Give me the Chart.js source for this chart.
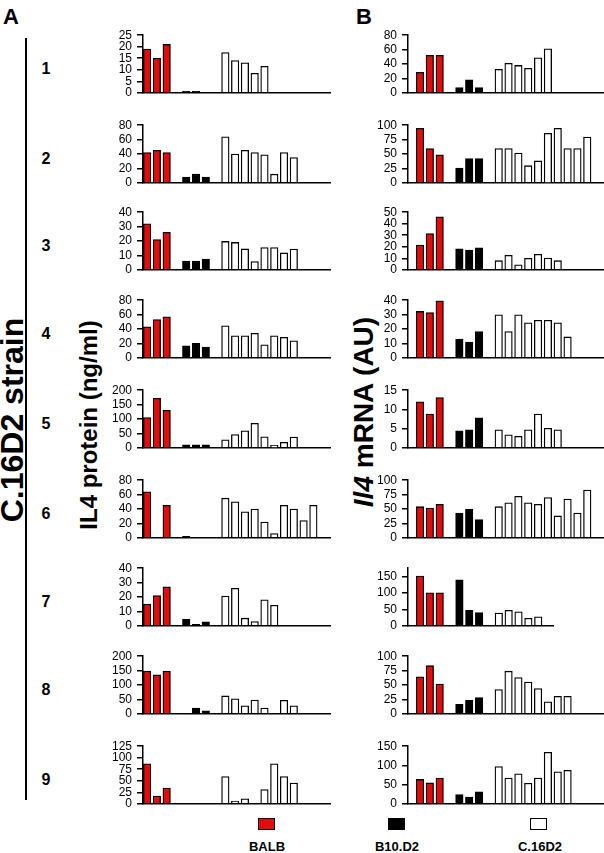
<!DOCTYPE html>
<html>
<head>
<meta charset="utf-8">
<script src="https://cdn.jsdelivr.net/npm/chart.js@4.4.1/dist/chart.umd.min.js"></script>
<style>
    body {
        margin: 0;
        width: 604px;
        height: 853px;
        position: relative;
        overflow: hidden;
        background: #ffffff;
        font-family: "Liberation Sans", Arial, sans-serif;
        color: #000000;
    }

    canvas {
        position: absolute;
    }

    .text {
        position: absolute;
        font-weight: bold;
        white-space: nowrap;
        transform: translate(-50%, -50%);
        line-height: 1;
    }

    .vertical {
        transform: translate(-50%, -50%) rotate(-90deg);
    }

    .strain-line {
        position: absolute;
        left: 25px;
        top: 38px;
        width: 2px;
        height: 762px;
        background: #000000;
    }

    .legend-box {
        position: absolute;
        width: 15px;
        height: 10px;
        border: 1.5px solid #000000;
    }
</style>
</head>
<body>

<div class="text" style="left: 11px; top: 17px; font-size: 22px;">A</div>
<div class="text" style="left: 364px; top: 17px; font-size: 22px;">B</div>

<div class="strain-line"></div>
<div class="text vertical" style="left: 12px; top: 420px; font-size: 32px;">C.16D2 strain</div>
<div class="text vertical" style="left: 89px; top: 425px; font-size: 24px;">IL4 protein (ng/ml)</div>
<div class="text vertical" style="left: 364px; top: 412px; font-size: 28px;"><i>Il4</i> mRNA (AU)</div>

<div id="row-numbers"></div>
<div id="panels"></div>

<div class="legend-box" style="left: 258px; top: 818px; background: #e10d0d;"></div>
<div class="legend-box" style="left: 388px; top: 818px; background: #000000;"></div>
<div class="legend-box" style="left: 530px; top: 818px; background: #ffffff;"></div>
<div class="text" style="left: 267px; top: 846px; font-size: 13px;">BALB</div>
<div class="text" style="left: 397px; top: 846px; font-size: 13px;">B10.D2</div>
<div class="text" style="left: 540px; top: 846px; font-size: 13px;">C.16D2</div>

<script>
// =========================================================
// DATA
// =========================================================

const ROW_LABELS = ["1", "2", "3", "4", "5", "6", "7", "8", "9"];
const SERIES_NAMES = ["BALB", "B10.D2", "C.16D2"];

// IL4 protein (ng/ml), one inner array per C.16D2 strain row
const PROTEIN_BALB = [
    [19, 15, 21],
    [42, 45, 42],
    [32, 21, 26],
    [43, 53, 57],
    [105, 172, 130],
    [64, null, 45],
    [15, 21, 27],
    [148, 135, 148],
    [87, 17, 34]
];

const PROTEIN_B10 = [
    [0.6, 0.6, null],
    [8, 12, 8],
    [6, 6, 7.5],
    [16.5, 20, 15],
    [10, 10, 10],
    [2, null, null],
    [4.5, 1, 2.7],
    [null, 20, 10],
    [null, null, null]
];

const PROTEIN_C16 = [
    [17.5, 14, 13, 8.5, 11.5],
    [64, 40, 45, 42, 39, 12, 42, 35],
    [19.7, 19, 14.5, 5.7, 15.4, 15.4, 11.7, 14.4],
    [44.5, 30.5, 30.5, 34, 18, 30.5, 28.5, 23.5],
    [28, 46, 59, 85, 38, 9, 19, 37],
    [55, 50, 36, 40, 22, 6, 45, 40, 24, 45],
    [20.6, 26, 5.3, 3, 18, 14.3],
    [62, 52, 28, 48, 20, null, 47, 28],
    [59, 6, 11, null, 31, 87, 59, 45]
];

const PROTEIN_MAX = [25, 80, 40, 80, 200, 80, 40, 200, 125];
const PROTEIN_STEP = [5, 20, 10, 20, 50, 20, 10, 50, 25];

// Il4 mRNA (AU)
const MRNA_BALB = [
    [28.5, 52, 52],
    [94.5, 59.5, 48.5],
    [21.4, 31.4, 46],
    [32.2, 31.4, 39.6],
    [12, 8.8, 13.1],
    [54, 51.5, 58],
    [151, 100, 100],
    [64.4, 83.5, 51.5],
    [63.5, 54.3, 67.3]
];

const MRNA_B10 = [
    [7.4, 18, 7.4],
    [25.5, 42, 42],
    [18.1, 17.1, 19.1],
    [13, 11, 18.2],
    [4.4, 4.7, 7.8],
    [43, 49.5, 31.6],
    [140, 47, 40],
    [16.5, 23.4, 28.2],
    [23.7, 17.6, 31.4]
];

const MRNA_C16 = [
    [32.5, 41, 38, 34, 48.6, 61],
    [59.5, 59.5, 51.5, 29.7, 38, 86, 94.5, 59.5, 59.5, 79.5],
    [7.9, 12.5, 4.3, 10, 13.5, 10.2, 7.9],
    [29.8, 18.2, 29.8, 24.3, 26.1, 26.1, 24.3, 14.5],
    [4.7, 3.4, 3, 4.7, 8.8, 5.1, 4.7],
    [54, 60.7, 72, 60.7, 58, 70, 38, 67.3, 43, 83],
    [39, 47, 42.5, 23, 27.4],
    [42, 74, 63, 55, 44, 20.7, 30.3, 30.3],
    [97, 67.3, 78, 53.6, 67.3, 134, 83.4, 87.2]
];

const MRNA_MAX = [80, 100, 50, 40, 15, 100, 175, 100, 150];
const MRNA_STEP = [20, 25, 10, 10, 5, 25, 50, 25, 50];

// =========================================================
// LAYOUT
// =========================================================

const ROW_BASELINES = [97, 187, 274, 362, 452, 542, 630, 718, 808];
const AXIS_HEIGHT = 66;
const PAD = 8;
const LABEL_WIDTH = 45;

// slot where each group of bars starts
const GROUP_OFFSETS = [0, 4, 8];
const BAR_COLORS = ["#e10d0d", "#000000", "#ffffff"];

const COLUMN_A = { axisX: 143, rightX: 330, xMin: -0.42, xMax: 18.7 };
const COLUMN_B = { axisX: 408, rightX: 603, xMin: -1.22, xMax: 18.6 };
const COLUMN_B_SHORT = { axisX: 408, rightX: 553, xMin: -1.22, xMax: 13.5 };

// =========================================================
// RENDERING
// =========================================================

function buildGroupData(values, offset) {
    const points = [];

    for (let valueIndex = 0; valueIndex < values.length; valueIndex++) {
        if (values[valueIndex] === null) {
            continue;
        }

        points.push({ x: offset + valueIndex, y: values[valueIndex] });
    }

    return points;
}

function createPanel(column, rowIndex, groups, maxValue, step) {
    const canvas = document.createElement("canvas");

    const left = column.axisX - LABEL_WIDTH;
    const width = column.rightX - left + 2;
    const top = ROW_BASELINES[rowIndex] - AXIS_HEIGHT - PAD;
    const height = AXIS_HEIGHT + PAD * 2;

    canvas.width = width;
    canvas.height = height;
    canvas.style.left = left + "px";
    canvas.style.top = top + "px";
    canvas.style.width = width + "px";
    canvas.style.height = height + "px";

    document.getElementById("panels").append(canvas);

    const datasets = [];

    for (let groupIndex = 0; groupIndex < groups.length; groupIndex++) {
        datasets.push({
            label: SERIES_NAMES[groupIndex],
            data: buildGroupData(groups[groupIndex], GROUP_OFFSETS[groupIndex]),
            backgroundColor: BAR_COLORS[groupIndex],
            borderColor: "#000000",
            borderWidth: 1.3,
            barThickness: 7.5,
            grouped: false
        });
    }

    return new Chart(canvas, {
        type: "bar",
        data: { datasets: datasets },
        options: {
            responsive: false,
            animation: false,
            devicePixelRatio: 1,
            layout: {
                padding: { top: PAD, bottom: PAD, left: 0, right: 2 }
            },
            scales: {
                x: {
                    type: "linear",
                    offset: false,
                    min: column.xMin,
                    max: column.xMax,
                    ticks: { display: false, stepSize: 1, includeBounds: false },
                    grid: { display: false, drawTicks: false, offset: false },
                    border: { display: true, color: "#000000", width: 1.5 },
                    afterFit: function (scale) {
                        scale.height = 0;
                    }
                },
                y: {
                    min: 0,
                    max: maxValue,
                    ticks: {
                        stepSize: step,
                        autoSkip: false,
                        includeBounds: false,
                        color: "#000000",
                        padding: 5,
                        font: { family: "Liberation Sans", size: 12 }
                    },
                    grid: {
                        display: true,
                        drawOnChartArea: false,
                        drawTicks: true,
                        tickLength: 6,
                        color: "#000000",
                        lineWidth: 1.5
                    },
                    border: { display: true, color: "#000000", width: 1.5 },
                    afterFit: function (scale) {
                        scale.width = LABEL_WIDTH;
                    }
                }
            },
            plugins: {
                legend: { display: false },
                tooltip: { enabled: false }
            }
        }
    });
}

function renderRowNumbers() {
    const container = document.getElementById("row-numbers");

    for (let rowIndex = 0; rowIndex < ROW_LABELS.length; rowIndex++) {
        const label = document.createElement("div");

        label.className = "text";
        label.style.left = "46px";
        label.style.top = (ROW_BASELINES[rowIndex] - 28) + "px";
        label.style.fontSize = "16px";
        label.textContent = ROW_LABELS[rowIndex];

        container.append(label);
    }
}

function renderPanels() {
    for (let rowIndex = 0; rowIndex < ROW_LABELS.length; rowIndex++) {
        createPanel(
            COLUMN_A,
            rowIndex,
            [PROTEIN_BALB[rowIndex], PROTEIN_B10[rowIndex], PROTEIN_C16[rowIndex]],
            PROTEIN_MAX[rowIndex],
            PROTEIN_STEP[rowIndex]
        );

        const mrnaColumn = rowIndex === 6 ? COLUMN_B_SHORT : COLUMN_B;

        createPanel(
            mrnaColumn,
            rowIndex,
            [MRNA_BALB[rowIndex], MRNA_B10[rowIndex], MRNA_C16[rowIndex]],
            MRNA_MAX[rowIndex],
            MRNA_STEP[rowIndex]
        );
    }
}

renderRowNumbers();
renderPanels();
</script>
</body>
</html>
